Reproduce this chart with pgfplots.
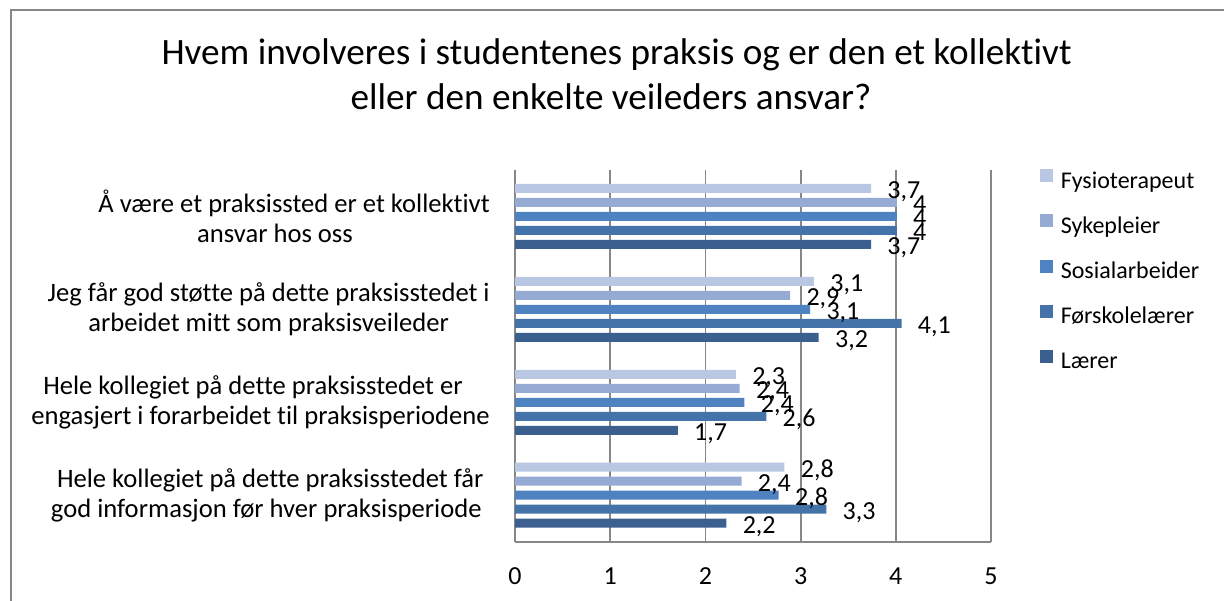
\documentclass[border=0pt]{standalone}
\usepackage{pgfplots}
\pgfplotsset{compat=1.18}
\usepackage{fontspec}
\setmainfont{Carlito}[Ligatures=NoCommon]
\definecolor{cFys}{HTML}{B9C7E3}
\definecolor{cSyk}{HTML}{95ABD4}
\definecolor{cSos}{HTML}{4F82C0}
\definecolor{cFor}{HTML}{4473A9}
\definecolor{cLar}{HTML}{3B5F8F}
\definecolor{gridc}{HTML}{878787}
\begin{document}
\begin{tikzpicture}
\path[use as bounding box] (0,0) rectangle (612pt,300pt);
\draw[gridc, line width=1pt] (5.5pt,-1pt) -- (5.5pt,295.15pt) -- (613pt,295.15pt);
\node[anchor=base, inner sep=0pt, font=\fontsize{18.6}{22}\selectfont] at (308.25pt,267.5pt) {Hvem involveres i studentenes praksis og er den et kollektivt};
\node[anchor=base, inner sep=0pt, font=\fontsize{18.6}{22}\selectfont] at (305.5pt,245pt) {eller den enkelte veileders ansvar?};
\begin{axis}[
  at={(257.5pt,29.15pt)}, anchor=south west, scale only axis,
  width=238pt, height=185.85pt,
  xbar, bar width=4.5pt,
  xmin=0, xmax=5, ymin=-0.5, ymax=3.5,
  xtick={0,1,2,3,4,5}, ytick={0,1,2,3},
  yticklabels={
    {Hele kollegiet på dette praksisstedet får\\god informasjon før hver praksisperiode\hspace*{4pt}},
    {Hele kollegiet på dette praksisstedet er\hspace*{7.5pt}\\engasjert i forarbeidet til praksisperiodene},
    {Jeg får god støtte på dette praksisstedet i\\arbeidet mitt som praksisveileder},
    {Å være et praksissted er et kollektivt\\ansvar hos oss\hspace*{19pt}}},
  axis lines*=left,
  axis line style={gridc, line width=1pt},
  xmajorgrids, major grid style={gridc, line width=0.9pt},
  major tick length=0pt,
  tick label style={font=\fontsize{13}{15}\selectfont},
  /pgf/number format/assume math mode=true,
  xticklabel style={anchor=base, yshift=-21.6pt},
  yticklabel style={align=center, anchor=east, inner sep=0pt, xshift=-12.5pt, font=\fontsize{13.3}{15}\selectfont},
  point meta=explicit symbolic,
  nodes near coords,
  every node near coord/.append style={anchor=base west, inner sep=0pt, xshift=8pt, yshift=-5.1pt, font=\fontsize{13}{15}\selectfont, black},
  legend style={at={(1.1029,1.0035)}, anchor=north west, draw=none, fill=none, inner sep=0pt,
    row sep=10.1pt, nodes={inner sep=0pt, text height=9pt, text depth=3pt},
    font=\fontsize{12}{14}\selectfont,
    /tikz/every odd column/.append style={column sep=3.7pt}},
  legend image code/.code={\draw[#1,/tikz/.cd,draw=none] (0pt,0pt) rectangle (6.5pt,6.5pt);},
  legend cell align=left,
]
\addplot[fill=cFys, draw=none, bar shift=14pt] table[x=v,y=c,meta=l] {
c v l
3 3.74 3,7
2 3.14 3,1
1 2.32 2,3
0 2.83 2,8
};
\addlegendentry{Fysioterapeut}
\addplot[fill=cSyk, draw=none, bar shift=7pt] table[x=v,y=c,meta=l] {
c v l
3 4.01 4
2 2.89 2,9
1 2.36 2,4
0 2.38 2,4
};
\addlegendentry{Sykepleier}
\addplot[fill=cSos, draw=none, bar shift=0pt] table[x=v,y=c,meta=l] {
c v l
3 4.01 4
2 3.10 3,1
1 2.41 2,4
0 2.77 2,8
};
\addlegendentry{Sosialarbeider}
\addplot[fill=cFor, draw=none, bar shift=-7pt] table[x=v,y=c,meta=l] {
c v l
3 4.01 4
2 4.06 4,1
1 2.64 2,6
0 3.27 3,3
};
\addlegendentry{Førskolelærer}
\addplot[fill=cLar, draw=none, bar shift=-14pt] table[x=v,y=c,meta=l] {
c v l
3 3.74 3,7
2 3.19 3,2
1 1.71 1,7
0 2.22 2,2
};
\addlegendentry{Lærer}
\end{axis}
\end{tikzpicture}
\end{document}
